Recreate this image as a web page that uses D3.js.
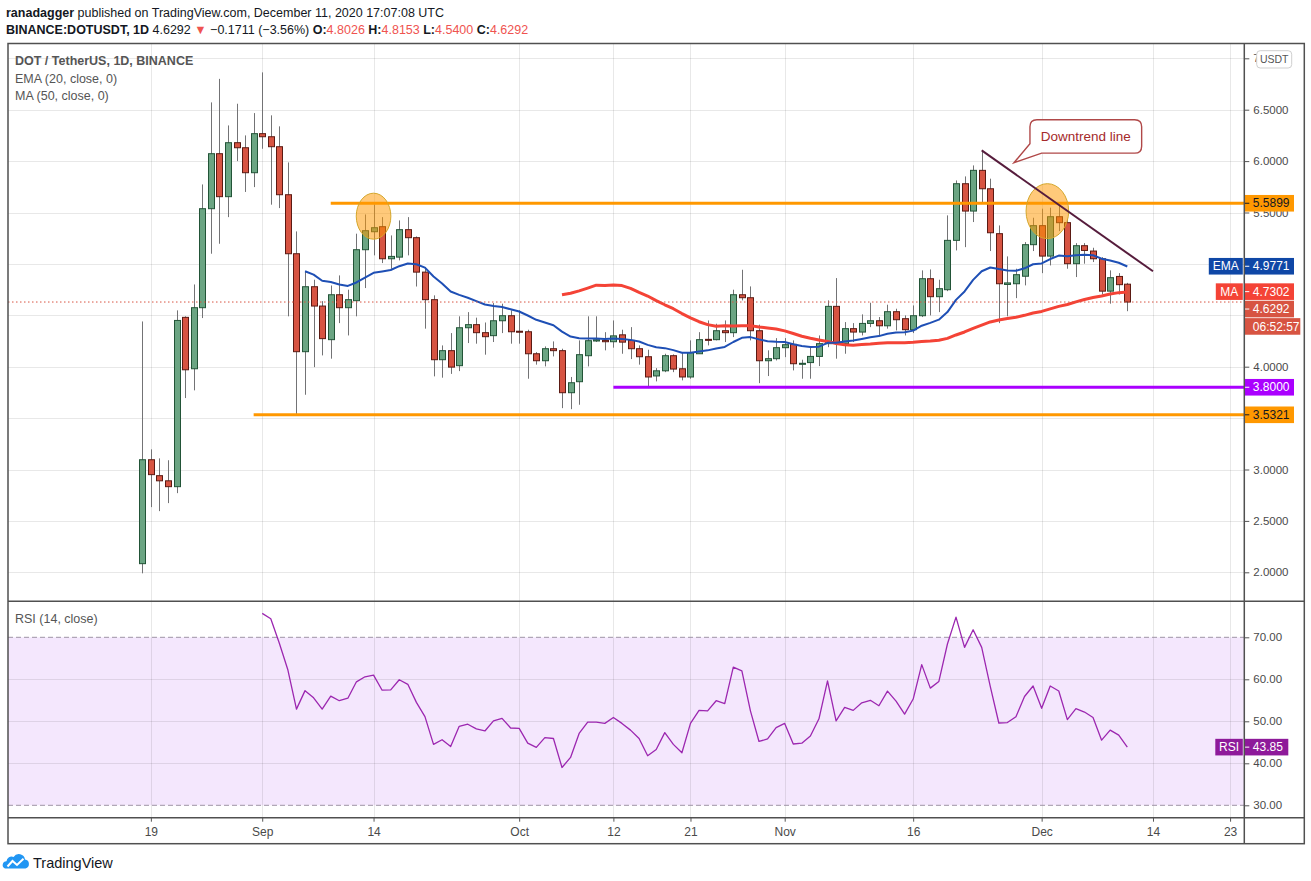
<!DOCTYPE html>
<html><head><meta charset="utf-8">
<script src="https://cdn.jsdelivr.net/npm/d3@7"></script>
<style>html,body{margin:0;padding:0;background:#fff;}svg{display:block;}</style>
</head><body><svg id="c" width="1311" height="881"></svg>
<script>
// ---------------- DATA ----------------
const startDate = "2020-08-18";
const opens  = [2.084,3.095,2.94,2.89,2.833,4.48,3.98,4.574,5.537,6.072,5.654,6.179,6.13,5.887,6.267,6.237,6.14,5.673,5.099,4.146,4.778,4.59,4.263,4.70,4.574,4.642,5.138,5.313,5.362,5.05,5.066,5.333,5.255,4.92,4.652,4.068,4.156,4.01,4.379,4.409,4.331,4.302,4.447,4.496,4.345,4.34,4.126,4.058,4.175,4.156,3.747,3.854,4.107,4.25,4.256,4.243,4.31,4.256,4.175,4.097,3.91,3.96,4.107,3.98,3.90,4.126,4.266,4.263,4.35,4.331,4.70,4.671,4.35,4.058,4.078,4.185,4.217,4.025,4.04,4.10,4.224,4.587,4.224,4.37,4.337,4.421,4.447,4.398,4.535,4.467,4.36,4.496,4.856,4.681,4.749,5.229,5.78,5.514,5.91,5.731,5.294,4.80,4.807,4.88,5.187,5.372,5.076,5.459,5.401,5.002,5.177,5.125,5.05,4.735,4.878,4.8026];
const highs  = [4.44,3.196,3.108,3.09,4.548,4.49,4.80,5.773,6.571,6.80,6.347,6.558,6.25,6.467,6.863,6.445,6.338,5.987,5.316,4.93,4.846,4.638,4.79,4.888,4.749,5.294,5.481,5.579,5.455,5.277,5.423,5.455,5.267,4.969,4.694,4.207,4.327,4.49,4.531,4.477,4.43,4.619,4.613,4.548,4.548,4.36,4.142,4.197,4.246,4.175,3.90,4.256,4.49,4.49,4.336,4.45,4.36,4.385,4.207,4.165,3.986,4.126,4.12,4.142,4.256,4.336,4.45,4.418,4.45,4.749,4.943,4.781,4.409,4.159,4.278,4.278,4.256,4.068,4.19,4.304,4.645,4.862,4.434,4.424,4.509,4.622,4.483,4.603,4.564,4.499,4.596,4.937,4.946,4.846,5.472,5.812,5.851,5.958,6.104,5.829,5.374,5.073,4.953,5.212,5.449,5.537,5.547,5.569,5.43,5.202,5.202,5.157,5.066,4.937,4.91,4.8153];
const lows   = [1.99,2.634,2.595,2.673,2.77,3.695,3.77,4.473,5.099,5.196,5.455,6.0,5.70,5.747,6.12,5.576,5.543,4.49,3.526,3.727,3.996,4.11,4.078,4.424,4.304,4.49,4.765,5.083,5.008,4.953,5.034,5.083,4.78,4.37,3.906,3.893,3.93,3.957,4.23,4.224,4.117,4.24,4.327,4.224,4.224,3.883,4.02,4.003,4.10,3.597,3.587,3.63,4.003,4.24,4.159,4.185,4.126,4.074,4.02,3.792,3.857,3.947,3.947,3.867,3.883,4.126,4.207,4.256,4.24,4.288,4.645,4.256,3.84,3.909,4.061,4.093,3.964,3.883,3.883,4.006,4.19,4.078,4.126,4.24,4.304,4.385,4.304,4.37,4.353,4.304,4.327,4.483,4.499,4.531,4.735,5.131,5.163,5.407,5.601,5.125,4.424,4.49,4.667,4.791,5.125,4.91,4.985,5.319,4.953,4.872,5.002,5.018,4.703,4.613,4.703,4.54];
const closes = [3.095,2.95,2.89,2.833,4.45,3.97,4.574,5.537,6.072,5.654,6.179,6.13,5.887,6.267,6.237,6.14,5.673,5.099,4.146,4.778,4.59,4.273,4.70,4.574,4.652,5.138,5.323,5.352,5.05,5.073,5.333,5.255,4.92,4.652,4.068,4.156,3.996,4.379,4.409,4.331,4.292,4.447,4.496,4.34,4.337,4.126,4.058,4.175,4.156,3.747,3.844,4.117,4.253,4.262,4.243,4.30,4.239,4.175,4.097,3.90,3.96,4.107,3.977,3.90,4.136,4.263,4.26,4.35,4.331,4.70,4.671,4.35,4.058,4.078,4.185,4.214,4.029,4.033,4.10,4.224,4.587,4.233,4.37,4.337,4.421,4.447,4.398,4.535,4.457,4.36,4.496,4.856,4.681,4.759,5.229,5.78,5.514,5.91,5.731,5.303,4.807,4.815,4.895,5.187,5.372,5.076,5.459,5.401,5.002,5.177,5.131,5.05,4.735,4.866,4.798,4.6292];
const rsiStartIndex = 14;
const rsiValues = [75.7,74.4,68.6,62.2,52.9,57.3,55.6,52.9,56.0,54.9,55.5,59.4,60.6,61.0,57.4,57.5,59.9,58.8,54.5,51.1,44.5,45.6,44.0,48.8,49.3,48.2,47.7,50.1,50.7,48.4,48.3,44.8,43.8,46.1,45.9,39.0,41.4,47.1,49.8,49.8,49.5,50.9,49.5,47.9,45.9,41.8,43.3,47.3,44.5,42.5,49.5,52.6,52.5,54.9,54.2,62.9,62.0,52.5,45.2,45.8,48.5,49.5,44.6,44.8,46.5,50.6,59.6,50.1,53.3,52.6,54.4,55.0,53.7,57.2,54.8,51.7,55.3,63.5,57.9,59.5,68.4,74.8,67.6,71.8,67.6,58.3,49.6,49.7,51.1,55.9,58.4,53.1,58.4,57.2,50.4,53.0,52.2,50.9,45.5,47.9,46.7,43.85];

const priceTicks = [2,2.5,3,3.5,4,4.5,5,5.5,6,6.5,7];
const rsiTicks = [30,40,50,60,70];
const rsiBand = [30,70];
const timeTickDates  = ["2020-08-19","2020-09-01","2020-09-14","2020-10-01","2020-10-12","2020-10-21","2020-11-01","2020-11-16","2020-12-01","2020-12-14","2020-12-23"];
const timeTickLabels = ["19","Sep","14","Oct","12","21","Nov","16","Dec","14","23"];

const levelValues = [5.5899, 3.8000, 3.5321];
const levelStarts = ["2020-09-09","2020-10-12","2020-08-31"];
const levelColors = ["#ff9800","#aa00ff","#ff9800"];
const levelTextColors = ["#131722","#ffffff","#131722"];

const emaLength = 20, maLength = 50;
const lastEma = 4.9771, lastMa = 4.7302, lastRsi = 43.85;
const countdownText = "06:52:57";

const trendDates = ["2020-11-24","2020-12-14"];
const trendPrices = [6.104, 4.928];
const ellipseDates = ["2020-09-14T00","2020-12-01T16"];
const ellipsePrices = [5.464, 5.513];
const calloutDate = "2020-11-28";
const calloutPrice = 5.984;
const calloutText = "Downtrend line";

// ---------------- LAYOUT ----------------
const FONT = "'Liberation Sans', Arial, sans-serif";
const L = 8, AX = 1244.3, R = 1304.3, T = 43.5, S = 601.3, XA = 817.7, B = 843.7;

const parseDay = d3.utcParse("%Y-%m-%d");
const parseHr = d3.utcParse("%Y-%m-%dT%H");
const t0 = parseDay(startDate);
const dates = closes.map((_, i) => d3.utcDay.offset(t0, i));
const candles = dates.map((d, i) => ({d, o: opens[i], h: highs[i], l: lows[i], c: closes[i]}));

const x = d3.scaleUtc().domain([t0, dates[dates.length - 1]]).range([142.3, 1127.3]);
const y = d3.scaleLinear().domain([2, 7]).range([572.3, 58.3]);
const yr = d3.scaleLinear().domain([30, 70]).range([805.3, 637.3]);

// indicators derived from the close series
const ema = [];
let prevE = null;
closes.forEach((c, i) => {
  if (i < emaLength - 1) return;
  if (prevE === null) prevE = d3.mean(closes.slice(0, emaLength));
  else prevE = prevE + (2 / (emaLength + 1)) * (c - prevE);
  ema.push({d: dates[i], v: prevE});
});
const ma = [];
for (let i = maLength - 1; i < closes.length; i++) ma.push({d: dates[i], v: d3.mean(closes.slice(i - maLength + 1, i + 1))});
const rsi = rsiValues.map((v, k) => ({d: dates[rsiStartIndex + k], v}));

const svg = d3.select("#c");
svg.append("rect").attr("width", 1311).attr("height", 881).attr("fill", "#fff");
const defs = svg.append("defs");
defs.append("clipPath").attr("id", "mainClip").append("rect").attr("x", L).attr("y", T).attr("width", AX - L).attr("height", S - T);
defs.append("clipPath").attr("id", "rsiClip").append("rect").attr("x", L).attr("y", S).attr("width", AX - L).attr("height", XA - S);

// RSI band
svg.append("rect").attr("x", L).attr("width", AX - L).attr("y", yr(rsiBand[1])).attr("height", yr(rsiBand[0]) - yr(rsiBand[1]))
  .attr("fill", "rgba(155,39,240,0.11)");

// grid
const grid = svg.append("g").attr("stroke", "rgba(0,0,0,0.09)").attr("stroke-width", 1);
priceTicks.forEach(p => { const yy = Math.round(y(p)) + 0.5; if (yy > T && yy < S) grid.append("line").attr("x1", L).attr("x2", AX).attr("y1", yy).attr("y2", yy); });
[40, 50, 60].forEach(v => { const yy = Math.round(yr(v)) + 0.5; grid.append("line").attr("x1", L).attr("x2", AX).attr("y1", yy).attr("y2", yy); });
timeTickDates.forEach(s => { const xx = Math.round(x(parseDay(s))) + 0.5; grid.append("line").attr("x1", xx).attr("x2", xx).attr("y1", T).attr("y2", XA); });

// RSI 70/30 dashed
rsiBand.forEach(v => svg.append("line").attr("x1", L).attr("x2", AX).attr("y1", yr(v)).attr("y2", yr(v))
  .attr("stroke", "#9e94a6").attr("stroke-dasharray", "5,3").attr("stroke-width", 1));

// ---------------- MAIN PANE ----------------
const main = svg.append("g").attr("clip-path", "url(#mainClip)");
const cg = main.append("g");
candles.forEach(k => {
  const up = k.c >= k.o;
  const cx = Math.round(x(k.d)) + 0.5;
  cg.append("line").attr("x1", cx).attr("x2", cx).attr("y1", y(k.h)).attr("y2", y(k.l)).attr("stroke", "#737375").attr("stroke-width", 1);
  const top = y(Math.max(k.o, k.c)), bot = y(Math.min(k.o, k.c));
  cg.append("rect").attr("x", cx - 3).attr("width", 6).attr("y", top).attr("height", Math.max(1, bot - top))
    .attr("fill", up ? "#6ba583" : "#d75442").attr("stroke", up ? "#225437" : "#5b1a13").attr("stroke-width", 1);
});
const line = d3.line().x(d => x(d.d)).y(d => y(d.v));
main.append("path").datum(ma).attr("d", line).attr("fill", "none").attr("stroke", "#f44336").attr("stroke-width", 3).attr("stroke-linejoin", "round");
main.append("path").datum(ema).attr("d", line).attr("fill", "none").attr("stroke", "#1e4fb5").attr("stroke-width", 2).attr("stroke-linejoin", "round");
const lastClose = closes[closes.length - 1];
main.append("line").attr("x1", L).attr("x2", AX).attr("y1", y(lastClose)).attr("y2", y(lastClose))
  .attr("stroke", "#d75442").attr("stroke-width", 1).attr("stroke-dasharray", "1.5,2.5");
levelValues.forEach((v, i) => main.append("line").attr("x1", x(parseDay(levelStarts[i]))).attr("x2", AX)
  .attr("y1", y(v)).attr("y2", y(v)).attr("stroke", levelColors[i]).attr("stroke-width", 3));
ellipseDates.forEach((s, i) => main.append("ellipse").attr("cx", x(parseHr(s))).attr("cy", y(ellipsePrices[i]))
  .attr("rx", i === 0 ? 17.3 : 21.3).attr("ry", i === 0 ? 23 : 27.5)
  .attr("fill", "rgba(255,152,0,0.52)").attr("stroke", "#d4a62a").attr("stroke-width", 1));
main.append("line").attr("x1", x(parseDay(trendDates[0]))).attr("y1", y(trendPrices[0]))
  .attr("x2", x(parseDay(trendDates[1]))).attr("y2", y(trendPrices[1])).attr("stroke", "#561c3c").attr("stroke-width", 2);
{
  const tx = x(parseDay(calloutDate)) - 2, ty = y(calloutPrice);
  const x1 = tx + 16, x2 = tx + 127.7, y1 = ty - 43, y2 = ty - 9.6, r = 7;
  const p = `M${x1 + r},${y1} H${x2 - r} Q${x2},${y1} ${x2},${y1 + r} V${y2 - r} Q${x2},${y2} ${x2 - r},${y2} H${x1 + 11.7} L${tx},${ty} L${x1},${y2 - 9.4} V${y1 + r} Q${x1},${y1} ${x1 + r},${y1} Z`;
  main.append("path").attr("d", p).attr("fill", "#fff").attr("stroke", "#b04848").attr("stroke-width", 1.4);
  main.append("text").attr("x", (x1 + x2) / 2).attr("y", (y1 + y2) / 2).attr("dy", "0.35em").attr("text-anchor", "middle")
    .attr("font-family", FONT).attr("font-size", 13.5).attr("fill", "#a52a2a").text(calloutText);
}

// ---------------- RSI PANE ----------------
const rp = svg.append("g").attr("clip-path", "url(#rsiClip)");
rp.append("path").datum(rsi).attr("d", d3.line().x(d => x(d.d)).y(d => yr(d.v))).attr("fill", "none")
  .attr("stroke", "#9c27b0").attr("stroke-width", 1.3).attr("stroke-linejoin", "round");

// ---------------- PRICE LABEL POSITIONS (collision resolved downward) ----------------
const lastCloseV = lastClose;
const labels = [
  {v: levelValues[0], text: d3.format(".4f")(levelValues[0]), bg: levelColors[0], fg: levelTextColors[0]},
  {v: lastEma, text: d3.format(".4f")(lastEma), bg: "#0f47a6", fg: "#fff", tag: "EMA", tagW: 34},
  {v: lastMa, text: d3.format(".4f")(lastMa), bg: "#f44336", fg: "#fff", tag: "MA", tagW: 27},
  {v: lastCloseV, text: d3.format(".4f")(lastCloseV), bg: "#d75442", fg: "#fff", countdown: true},
  {v: levelValues[1], text: d3.format(".4f")(levelValues[1]), bg: levelColors[1], fg: levelTextColors[1]},
  {v: levelValues[2], text: d3.format(".4f")(levelValues[2]), bg: levelColors[2], fg: levelTextColors[2]},
];
const LH = 16.6, GAP = 17.4;
labels.sort((a, b) => y(a.v) - y(b.v));
let prevY = -1e9;
const occupied = [];
labels.forEach(lb => {
  lb.y = Math.max(y(lb.v), prevY + GAP);
  occupied.push(lb.y);
  if (lb.countdown) occupied.push(lb.y + GAP);
  prevY = lb.y + (lb.countdown ? GAP : 0);
});
// tick labels that sit fully under a label box are not shown (as in the reference)
const coveredTick = p => occupied.some(c => Math.abs(c - y(p)) < 7.5);

// ---------------- AXES ----------------
const axisTextColor = "#4a4a4a";
const yAxisG = svg.append("g").attr("transform", `translate(${AX},0)`)
  .call(d3.axisRight(y).tickValues(priceTicks).tickFormat(p => coveredTick(p) ? "" : d3.format(".4f")(p)).tickSize(5).tickPadding(4));
const rAxisG = svg.append("g").attr("transform", `translate(${AX},0)`)
  .call(d3.axisRight(yr).tickValues(rsiTicks).tickFormat(d3.format(".2f")).tickSize(5).tickPadding(4));
const xAxisG = svg.append("g").attr("transform", `translate(0,${XA})`)
  .call(d3.axisBottom(x).tickValues(timeTickDates.map(parseDay)).tickFormat((d, i) => timeTickLabels[i]).tickSize(4).tickPadding(6));
[yAxisG, rAxisG, xAxisG].forEach(g => {
  g.select(".domain").remove();
  g.selectAll("line").attr("stroke", "#555");
  g.selectAll("text").attr("fill", axisTextColor).attr("font-family", FONT).attr("font-size", 11.5);
});
xAxisG.selectAll("text").attr("font-size", 12);
yAxisG.selectAll("text").filter(function () { return this.textContent === ""; }).remove();

const lg = svg.append("g").attr("font-family", FONT).attr("font-size", 12);
function box(g, xx, yc, w, bg, fg, text, anchor) {
  g.append("rect").attr("x", xx).attr("y", yc - LH / 2).attr("width", w).attr("height", LH).attr("fill", bg);
  const t = g.append("text").attr("y", yc).attr("dy", "0.35em").attr("fill", fg).text(text);
  if (anchor === "middle") t.attr("x", xx + w / 2).attr("text-anchor", "middle"); else t.attr("x", xx + 8.5);
}
labels.forEach(lb => {
  box(lg, AX, lb.y, 49.7, lb.bg, lb.fg, lb.text);
  lg.append("line").attr("x1", AX).attr("x2", AX + 5).attr("y1", lb.y).attr("y2", lb.y).attr("stroke", lb.fg);
  if (lb.tag) box(lg, AX - 1.5 - lb.tagW, lb.y, lb.tagW, lb.bg, "#fff", lb.tag, "middle");
  if (lb.countdown) box(lg, AX, lb.y + GAP, 56, lb.bg, "#fff", countdownText);
});
{
  const yc = yr(lastRsi);
  box(lg, AX, yc, 44, "#8e1a9a", "#fff", d3.format(".2f")(lastRsi));
  lg.append("line").attr("x1", AX).attr("x2", AX + 5).attr("y1", yc).attr("y2", yc).attr("stroke", "#fff");
  box(lg, AX - 1.5 - 27.5, yc, 27.5, "#8e1a9a", "#fff", "RSI", "middle");
}
// USDT badge
svg.append("rect").attr("x", 1256.7).attr("y", 50.7).attr("width", 35).attr("height", 17.3).attr("rx", 3.5)
  .attr("fill", "#fff").attr("stroke", "#cfcfcf");
svg.append("text").attr("x", 1274.2).attr("y", 59.4).attr("dy", "0.35em").attr("text-anchor", "middle")
  .attr("font-family", FONT).attr("font-size", 10.5).attr("fill", "#555").text("USDT");

// ---------------- FRAME ----------------
const frame = svg.append("g").attr("stroke", "#505050").attr("stroke-width", 1.5).attr("fill", "none");
frame.append("rect").attr("x", L).attr("y", T).attr("width", R - L).attr("height", B - T);
frame.append("line").attr("x1", AX).attr("x2", AX).attr("y1", T).attr("y2", B);
frame.append("line").attr("x1", L).attr("x2", R).attr("y1", S).attr("y2", S);
frame.append("line").attr("x1", L).attr("x2", R).attr("y1", XA).attr("y2", XA);

// ---------------- LEGENDS / HEADER ----------------
const leg = svg.append("g").attr("font-family", FONT).attr("fill", "#555");
leg.append("text").attr("x", 15).attr("y", 65).attr("font-size", 12.5).attr("font-weight", "bold").text("DOT / TetherUS, 1D, BINANCE");
leg.append("text").attr("x", 15).attr("y", 82.5).attr("font-size", 12.5).text("EMA (20, close, 0)");
leg.append("text").attr("x", 15).attr("y", 99.5).attr("font-size", 12.5).text("MA (50, close, 0)");
leg.append("text").attr("x", 15).attr("y", 623).attr("font-size", 12.5).text("RSI (14, close)");

const hd = svg.append("g").attr("font-family", FONT).attr("font-size", 12.5).attr("fill", "#131722");
const h1 = hd.append("text").attr("x", 6).attr("y", 17);
h1.append("tspan").attr("font-weight", "bold").text("ranadagger");
h1.append("tspan").text(" published on TradingView.com, December 11, 2020 17:07:08 UTC");
const red = "#ef5350";
const h2 = hd.append("text").attr("x", 6).attr("y", 34);
h2.append("tspan").attr("font-weight", "bold").text("BINANCE:DOTUSDT, 1D");
h2.append("tspan").text("  4.6292 ");
h2.append("tspan").attr("fill", red).text("▼");
h2.append("tspan").text(" −0.1711 (−3.56%) ");
[["O:", "4.8026"], ["H:", "4.8153"], ["L:", "4.5400"], ["C:", "4.6292"]].forEach(([k, v], i) => {
  h2.append("tspan").attr("font-weight", "bold").text((i ? " " : "") + k);
  h2.append("tspan").attr("fill", red).text(v);
});

// logo
const logo = svg.append("g");
logo.append("path").attr("d", "M5,868.5 H25.5 A4.6,4.6 0 0 0 25,859.5 A6.2,6.2 0 0 0 13.6,857 A5,5 0 0 0 6.5,861.2 A3.8,3.8 0 0 0 5,868.5 Z").attr("fill", "#2196f3");
logo.append("path").attr("d", "M7.5,866.5 L12.5,861 L17,865 L23.5,858.8").attr("fill", "none").attr("stroke", "#fff").attr("stroke-width", 2);
svg.append("text").attr("x", 33).attr("y", 862.5).attr("dy", "0.35em").attr("font-family", FONT).attr("font-size", 14.5).attr("fill", "#131722").text("TradingView");
</script></body></html>
